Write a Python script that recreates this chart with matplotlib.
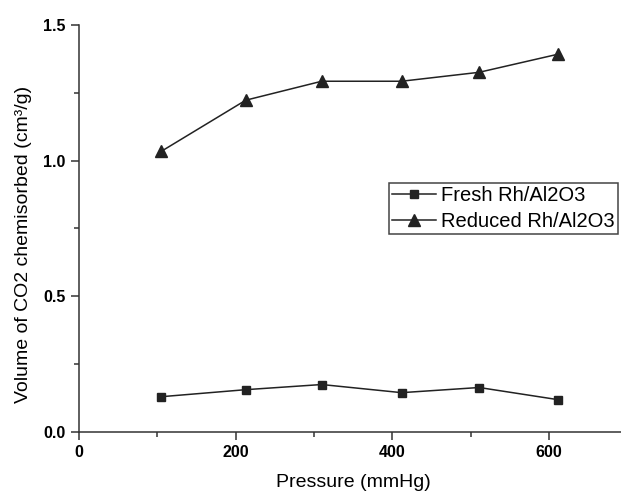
import matplotlib.pyplot as plt
from matplotlib.ticker import MultipleLocator, FixedLocator

plt.rcParams['font.family'] = ['Liberation Sans', 'DejaVu Sans']

# data
pressure_fresh = [105, 213, 310, 412, 511, 612]
fresh = [0.129, 0.155, 0.174, 0.144, 0.163, 0.118]
pressure_reduced = [105, 213, 310, 412, 511, 612]
reduced = [1.034, 1.223, 1.293, 1.293, 1.326, 1.393]
labels = ["Fresh Rh/Al2O3", "Reduced Rh/Al2O3"]

fig = plt.figure(figsize=(6.21, 4.91), dpi=100)
# axis runs off the right edge of the picture (x up to 700)
ax = fig.add_axes([0.127, 0.1208, 0.883, 0.828])

ax.plot(pressure_fresh, fresh, '-s', color='#222222', markersize=6, linewidth=1.1, label=labels[0])
ax.plot(pressure_reduced, reduced, '-^', color='#222222', markersize=8, linewidth=1.1, label=labels[1])

ax.set_xlim(0, 700)
ax.set_ylim(0, 1.5)
ax.xaxis.set_major_locator(FixedLocator([0, 200, 400, 600]))
ax.xaxis.set_minor_locator(FixedLocator([100, 300, 500]))
ax.yaxis.set_major_locator(MultipleLocator(0.5))
ax.yaxis.set_minor_locator(MultipleLocator(0.25))
ax.tick_params(which='major', direction='out', length=5.5, width=1.1, labelsize=11.5, pad=4,
               color='#333333')
ax.tick_params(which='minor', direction='out', length=3.5, width=1.1, color='#333333')
for lbl in ax.get_xticklabels() + ax.get_yticklabels():
    lbl.set_fontweight('bold')

ax.spines['top'].set_visible(False)
ax.spines['right'].set_visible(False)
for s in ['left', 'bottom']:
    ax.spines[s].set_linewidth(1.1)
    ax.spines[s].set_color('#333333')

ax.set_xlabel("Pressure (mmHg)", fontsize=14)
ax.set_ylabel("Volume of CO2 chemisorbed (cm³/g)", fontsize=14)
ax.xaxis.set_label_coords(0.5, -0.104)
ax.yaxis.set_label_coords(-0.0857, 0.46)

leg = ax.legend(loc='upper left', bbox_to_anchor=(0.565, 0.611), fontsize=14.5,
                fancybox=False, framealpha=1, edgecolor='#444444',
                handlelength=2.2, borderpad=0.15, labelspacing=0.35, handletextpad=0.25,
                borderaxespad=0)
leg.get_frame().set_linewidth(1.1)

fig.savefig("out.png", dpi=100)
